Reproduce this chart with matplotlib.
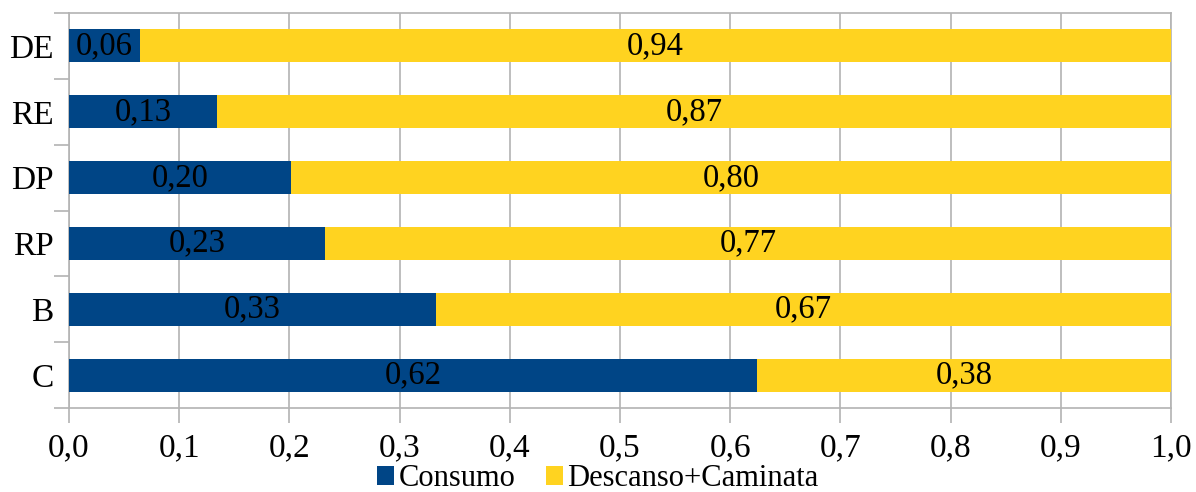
import matplotlib.pyplot as plt

# Datos de las categorías (de abajo hacia arriba)
categorias = ["C", "B", "RP", "DP", "RE", "DE"]
consumo = [0.624, 0.333, 0.232, 0.201, 0.134, 0.064]
descanso = [0.376, 0.667, 0.768, 0.799, 0.866, 0.936]

azul = "#004586"
amarillo = "#ffd320"
gris = "#b3b3b3"

plt.rcParams["font.family"] = ["Liberation Serif", "DejaVu Serif"]

fig = plt.figure(figsize=(11.96, 4.92), dpi=100)
ax = fig.add_axes([69 / 1196, 1 - 408 / 492, (1171 - 69) / 1196, (408 - 13) / 492])

pos = range(len(categorias))
b1 = ax.barh(pos, consumo, height=0.5, color=azul, label="Consumo", zorder=3)
b2 = ax.barh(pos, descanso, left=consumo, height=0.5, color=amarillo,
             label="Descanso+Caminata", zorder=3)

# Etiquetas con coma decimal
for barras, valores in ((b1, consumo), (b2, descanso)):
    ax.bar_label(barras, labels=[f"{v:.2f}".replace(".", ",") for v in valores],
                 label_type="center", fontsize=23.5, color="black", zorder=4)

ax.set_xlim(0, 1)
ax.set_ylim(-0.5, len(categorias) - 0.5)
xt = [i / 10 for i in range(11)]
ax.set_xticks(xt)
ax.set_xticklabels([f"{v:.1f}".replace(".", ",") for v in xt], fontsize=24)
ax.set_yticks(list(pos))
ax.set_yticklabels(categorias, fontsize=24)
ax.tick_params(axis="y", length=0, pad=11)
ax.set_yticks([i - 0.5 for i in range(len(categorias) + 1)], minor=True)
ax.tick_params(axis="y", which="minor", length=11, color=gris, width=1.2)
ax.tick_params(axis="x", length=11, color=gris, width=1.2, pad=7)

ax.grid(axis="x", color=gris, linewidth=1.2, zorder=0)
for s in ax.spines.values():
    s.set_color(gris)
    s.set_linewidth(1.2)

fig.legend(handles=[b1, b2], loc="center", bbox_to_anchor=(0.5, 1 - 479 / 492),
           ncol=2, frameon=False, fontsize=22, handlelength=0.55, handleheight=0.55,
           handletextpad=0.15, columnspacing=1.0, borderpad=0)

fig.savefig("out.png", dpi=100)
